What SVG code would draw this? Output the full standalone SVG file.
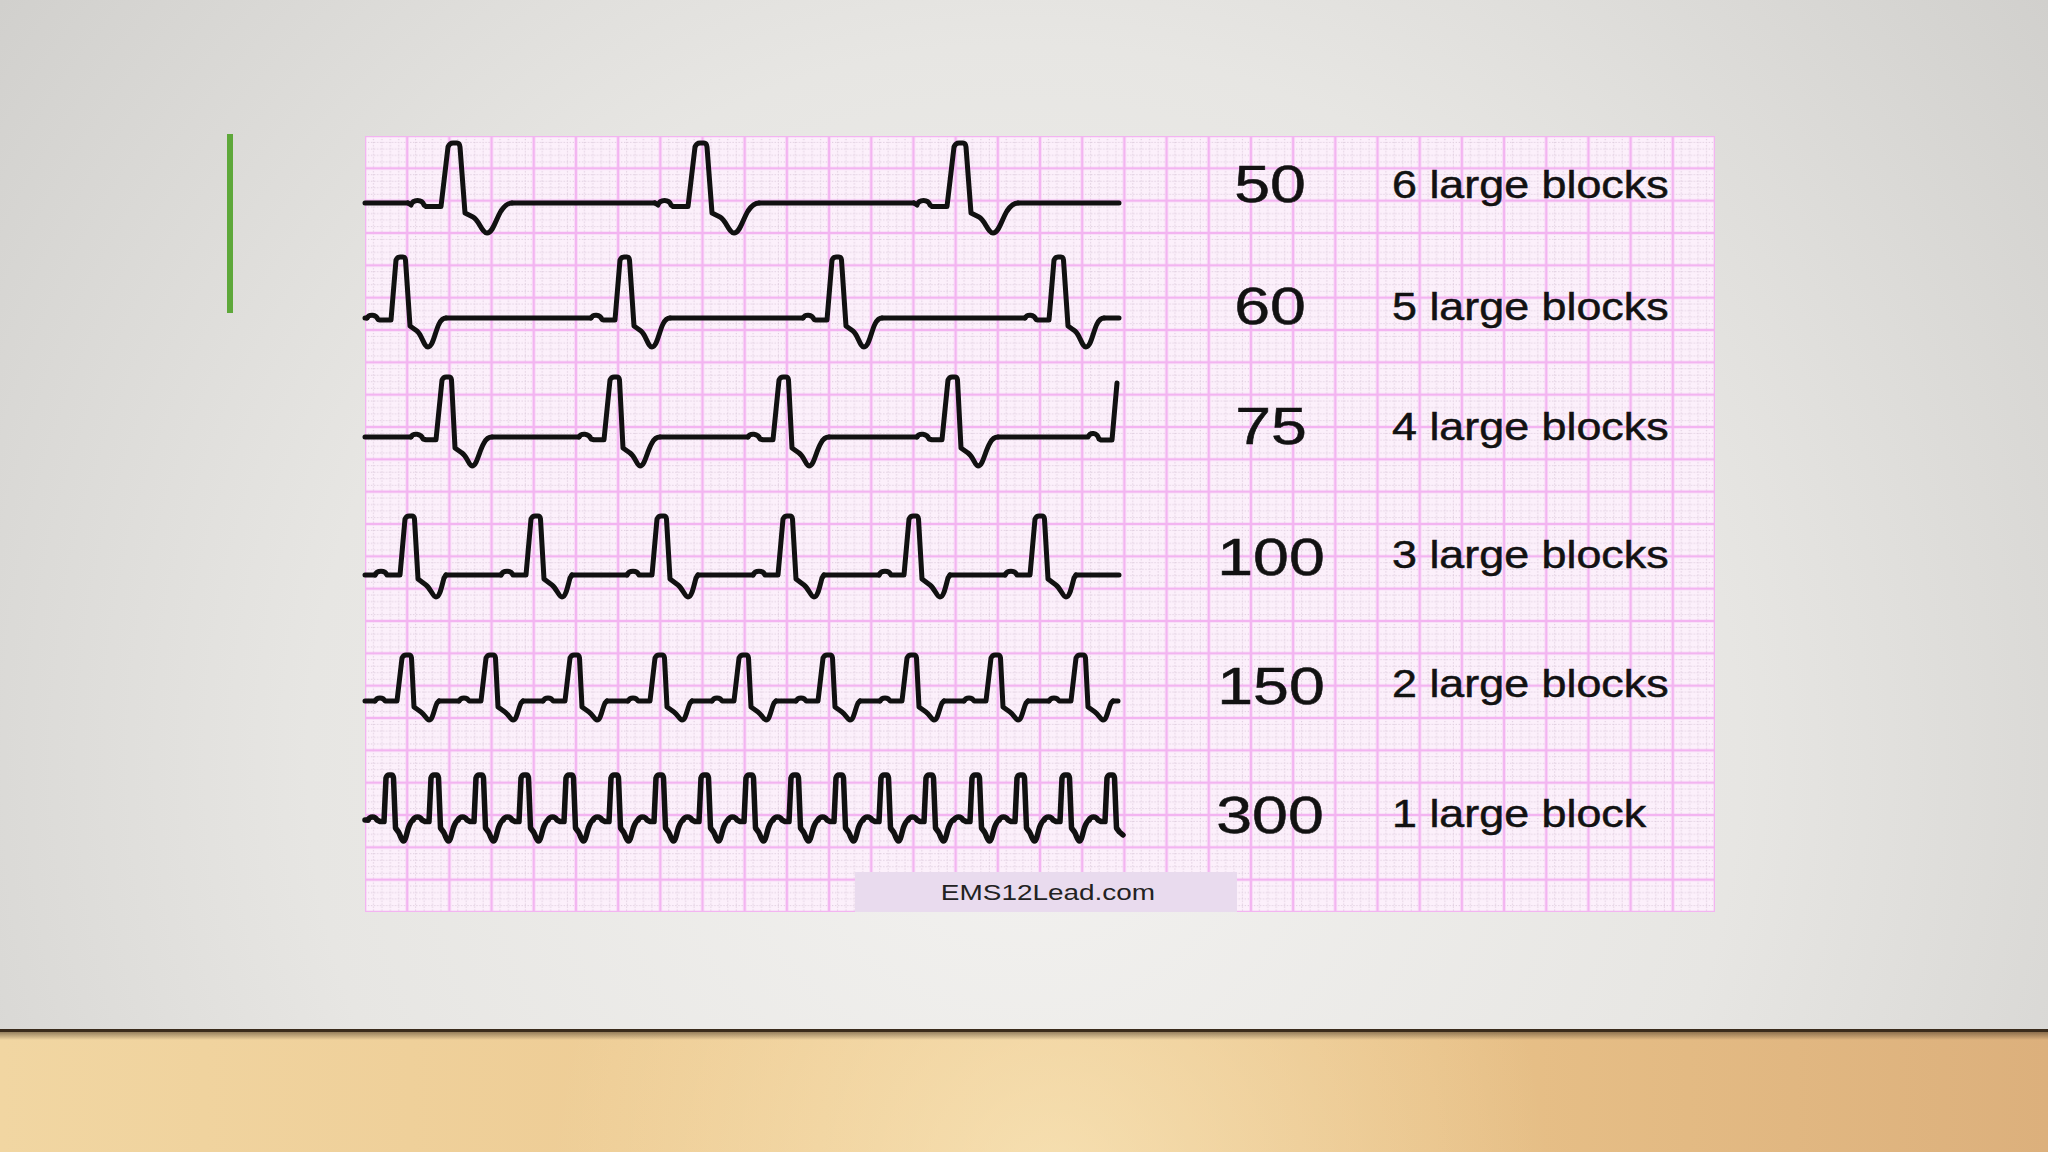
<svg xmlns="http://www.w3.org/2000/svg" xmlns:xlink="http://www.w3.org/1999/xlink" width="2048" height="1152" viewBox="0 0 2048 1152">
<style>
.ecg{fill:none;stroke:#111;stroke-width:5;stroke-linejoin:round;stroke-linecap:round}
.ecg6{fill:none;stroke:#111;stroke-width:5.5;stroke-linejoin:round;stroke-linecap:round}
.num{font-family:"Liberation Sans",Arial,sans-serif;font-size:52px;fill:#121212;stroke:#121212;stroke-width:0.5;text-anchor:middle}
.lbl{font-family:"Liberation Sans",Arial,sans-serif;font-size:38px;fill:#121212;stroke:#121212;stroke-width:0.5}
.wm{font-family:"Liberation Sans",Arial,sans-serif;font-size:21.5px;fill:#222;text-anchor:middle}
</style>
<defs>
<radialGradient id="wall" gradientUnits="userSpaceOnUse" cx="1024" cy="760" r="1300">
<stop offset="0" stop-color="#f3f2f0"/>
<stop offset="0.55" stop-color="#e7e6e3"/>
<stop offset="1" stop-color="#d0cfcc"/>
</radialGradient>
<linearGradient id="wood" x1="0" y1="0" x2="1" y2="0">
<stop offset="0" stop-color="#f1d6a2"/>
<stop offset="0.4" stop-color="#edca92"/>
<stop offset="0.7" stop-color="#e8c188"/>
<stop offset="1" stop-color="#dcb07c"/>
</linearGradient>
<radialGradient id="woodHi" gradientUnits="userSpaceOnUse" cx="1050" cy="1180" r="500">
<stop offset="0" stop-color="#fff3cc" stop-opacity="0.55"/>
<stop offset="1" stop-color="#fff3cc" stop-opacity="0"/>
</radialGradient>
<linearGradient id="shade" x1="0" y1="0" x2="0" y2="1">
<stop offset="0" stop-color="#3b2c1c" stop-opacity="0.5"/>
<stop offset="1" stop-color="#3b2c1c" stop-opacity="0"/>
</linearGradient>
<pattern id="grid" patternUnits="userSpaceOnUse" x="365" y="136" width="42.1875" height="32.3333">
<rect width="42.1875" height="32.3333" fill="#fcf0fb"/>
<path d="M8.4375,0V32.3333M16.875,0V32.3333M25.3125,0V32.3333M33.75,0V32.3333M0,6.4667H42.1875M0,12.9333H42.1875M0,19.4H42.1875M0,25.8667H42.1875" stroke="#dccadc" stroke-width="1" stroke-dasharray="1.2,1.8"/>
<path d="M0,0V32.3333M42.1875,0V32.3333M0,0H42.1875M0,32.3333H42.1875" stroke="#f3b4f1" stroke-width="2.6"/>
</pattern>
<path id="A" class="ecg" d="M-47,0 L-44,2 C-42,-4 -33,-4 -31,2 L-29,3.5 L-14,3.5 L-7,-56 Q-5.5,-60 -2,-60 L2,-60 Q4.5,-60 5,-56 L10,10 L18,14 C24,17 27,30 32,30 C38,30 41,16 46,8 C50,2 53,0 57,0"/>
<path id="B" class="ecg" d="M-34,0 C-32,-4 -25,-4 -23,1.5 L-21,2 L-10,2 L-5,-58 Q-3.5,-61 -1,-61 L2,-61 Q4,-61 4.5,-58 L9,8 L16,13 C21,17 23,29 27,29 C32,29 34,14 38,6 C40,2 42,0 45,0"/>
<path id="C" class="ecg" d="M-36,0 C-34,-4 -26,-4 -24,2 L-21,2.7 L-11,2.7 L-5,-57 Q-3.5,-60 -1,-60 L2,-60 Q4,-60 4.5,-57 L8,11 L15,16 C20,19 22,29 25,29 C30,29 32,14 37,6 C39,2 42,0 45,0"/>
<path id="D" class="ecg" d="M-35,0 C-33,-5 -25,-5 -23,0 L-10,0 L-5,-56 Q-3.5,-59 -1,-59 L2,-59 Q4,-59 4.5,-56 L8,4 L16,10 C21,14 23,22 26,22 C30,22 32,10 34,3 L36,0"/>
<path id="E" class="ecg" d="M-32,0 C-30,-4 -24,-4 -22,0 L-10,0 L-5,-43 Q-3.5,-46 -1,-46 L2,-46 Q4,-46 4.5,-43 L7,6 L14,11 C18,14 20,19 22,19 C26,19 27,8 30,2 L32,0"/>
<path id="F" class="ecg6" d="M-22,0 C-20,-4 -15,-4 -13,0 L-10,1.5 L-6,1.5 L-4,-42 Q-3,-45 -1,-45 L1.5,-45 Q3,-45 3.5,-42 L5.5,8 L8.5,12 C10.5,15 11.5,21 13.5,21 C16,21 17,10 19.5,5 C21,2 22,0 23,0"/>
<path id="F2" class="ecg6" d="M-22,0 C-20,-4 -15,-4 -13,0 L-10,1.5 L-6,1.5 L-4,-42 Q-3,-45 -1,-45 L1.5,-45 Q3,-45 3.5,-42 L5.5,8 L8.5,12 L12,15"/>
</defs>

<rect id="wall-bg" width="2048" height="1030" fill="url(#wall)"/>
<g id="floor">
<rect y="1030" width="2048" height="122" fill="url(#wood)"/>
<rect y="1030" width="2048" height="122" fill="url(#woodHi)"/>
<rect y="1032" width="2048" height="8" fill="url(#shade)"/>
<rect y="1029" width="2048" height="3" fill="#3a2b1b"/>
</g>
<rect id="accent-bar" x="227" y="134" width="6" height="179" fill="#5ea83a"/>

<g id="ecg-paper">
<rect x="365" y="136" width="1350" height="776" fill="url(#grid)"/>
</g>

<g id="row-50">
<path class="ecg" d="M365,203 H408 M512,203 H655 M759,203 H914 M1018,203 H1119"/>
<use xlink:href="#A" x="455" y="203"/>
<use xlink:href="#A" x="702" y="203"/>
<use xlink:href="#A" x="961" y="203"/>
</g>
<g id="row-60">
<path class="ecg" d="M365,318 H367 M446,318 H591 M670,318 H803 M882,318 H1025 M1104,318 H1119"/>
<use xlink:href="#B" x="401" y="318"/>
<use xlink:href="#B" x="625" y="318"/>
<use xlink:href="#B" x="837" y="318"/>
<use xlink:href="#B" x="1059" y="318"/>
</g>
<g id="row-75">
<path class="ecg" d="M365,437 H411 M492,437 H579 M660,437 H748 M829,437 H917 M998,437 H1088 C1090,432 1097,432 1099,439 L1101,440 L1112,440 L1117,383"/>
<use xlink:href="#C" x="447" y="437"/>
<use xlink:href="#C" x="615" y="437"/>
<use xlink:href="#C" x="784" y="437"/>
<use xlink:href="#C" x="953" y="437"/>
</g>
<g id="row-100">
<path class="ecg" d="M365,575 H375 M446,575 H501 M572,575 H627 M698,575 H753 M824,575 H879 M950,575 H1005 M1076,575 H1119"/>
<use xlink:href="#D" x="410" y="575"/>
<use xlink:href="#D" x="536" y="575"/>
<use xlink:href="#D" x="662" y="575"/>
<use xlink:href="#D" x="788" y="575"/>
<use xlink:href="#D" x="914" y="575"/>
<use xlink:href="#D" x="1040" y="575"/>
</g>
<g id="row-150">
<path class="ecg" d="M365,701 H375 M439,701 H459 M523,701 H543 M607,701 H628 M692,701 H712 M776,701 H796 M860,701 H880 M944,701 H964 M1028,701 H1049 M1113,701 H1118"/>
<use xlink:href="#E" x="407" y="701"/>
<use xlink:href="#E" x="491" y="701"/>
<use xlink:href="#E" x="575" y="701"/>
<use xlink:href="#E" x="660" y="701"/>
<use xlink:href="#E" x="744" y="701"/>
<use xlink:href="#E" x="828" y="701"/>
<use xlink:href="#E" x="912" y="701"/>
<use xlink:href="#E" x="996" y="701"/>
<use xlink:href="#E" x="1081" y="701"/>
</g>
<g id="row-300">
<path class="ecg6" d="M365,820 H368"/>
<use xlink:href="#F" x="390" y="820"/>
<use xlink:href="#F" x="435" y="820"/>
<use xlink:href="#F" x="480" y="820"/>
<use xlink:href="#F" x="525" y="820"/>
<use xlink:href="#F" x="570" y="820"/>
<use xlink:href="#F" x="615" y="820"/>
<use xlink:href="#F" x="660" y="820"/>
<use xlink:href="#F" x="705" y="820"/>
<use xlink:href="#F" x="750" y="820"/>
<use xlink:href="#F" x="795" y="820"/>
<use xlink:href="#F" x="840" y="820"/>
<use xlink:href="#F" x="885" y="820"/>
<use xlink:href="#F" x="930" y="820"/>
<use xlink:href="#F" x="976" y="820"/>
<use xlink:href="#F" x="1021" y="820"/>
<use xlink:href="#F" x="1066" y="820"/>
<use xlink:href="#F2" x="1111" y="820"/>
</g>

<g id="rates">
<text class="num" transform="translate(1270,202) scale(1.24,1)">50</text>
<text class="num" transform="translate(1270,324) scale(1.24,1)">60</text>
<text class="num" transform="translate(1271,444) scale(1.24,1)">75</text>
<text class="num" transform="translate(1271,575) scale(1.24,1)">100</text>
<text class="num" transform="translate(1271,704) scale(1.24,1)">150</text>
<text class="num" transform="translate(1270,833) scale(1.24,1)">300</text>
</g>
<g id="blocks">
<text class="lbl" transform="translate(1392,198) scale(1.18,1)">6 large blocks</text>
<text class="lbl" transform="translate(1392,320) scale(1.18,1)">5 large blocks</text>
<text class="lbl" transform="translate(1392,440) scale(1.18,1)">4 large blocks</text>
<text class="lbl" transform="translate(1392,568) scale(1.18,1)">3 large blocks</text>
<text class="lbl" transform="translate(1392,697) scale(1.18,1)">2 large blocks</text>
<text class="lbl" transform="translate(1392,827) scale(1.18,1)">1 large block</text>
</g>
<g id="watermark">
<rect x="855" y="872" width="382" height="40" fill="#e9dbee"/>
<text class="wm" transform="translate(1048,900) scale(1.3,1)">EMS12Lead.com</text>
</g>
</svg>
